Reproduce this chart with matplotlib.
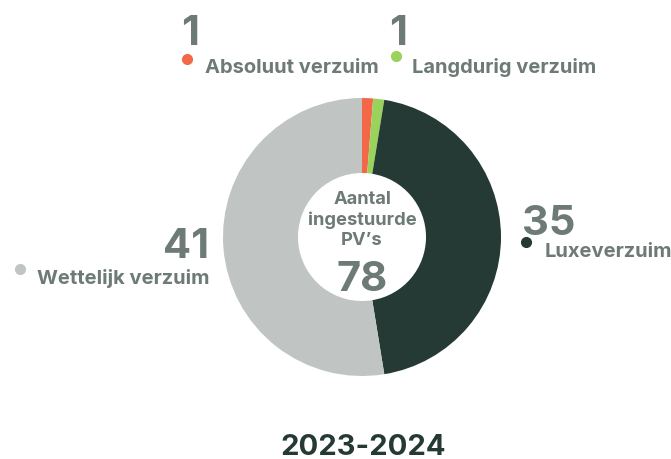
import matplotlib.pyplot as plt

# data
labels = ["Absoluut verzuim", "Langdurig verzuim", "Luxeverzuim", "Wettelijk verzuim"]
values = [1, 1, 35, 41]
colors = ["#F26849", "#9AD35C", "#253A35", "#C0C4C3"]
year = "2023-2024"

txt_grey = "#6E7A76"
dark = "#253A35"
plt.rcParams['font.family'] = ['Inter', 'DejaVu Sans']

W, H = 671, 460
fig = plt.figure(figsize=(W / 100, H / 100), dpi=100)
ax = fig.add_axes([0, 0, 1, 1])

cx, cy = 362, H - 238
ax.pie(values, colors=colors, startangle=90, counterclock=False,
       center=(cx, cy), radius=139, frame=True,
       wedgeprops=dict(width=139 - 64, linewidth=0))
ax.set_xlim(0, W)
ax.set_ylim(0, H)
ax.set_aspect('equal')
ax.axis('off')

# centre text
for txt, y in [("Aantal", 200), ("ingestuurde", 220), ("PV\u2019s", 241)]:
    ax.text(cx, H - y, txt, ha='center', va='center', fontsize=13.2,
            fontweight='bold', color=txt_grey)
ax.text(cx, H - 291, str(sum(values)), ha='center', va='baseline', fontsize=30,
        fontweight='bold', color=txt_grey)

# labels: (number x, number baseline y, dot x, dot y, label x, label baseline y, number ha)
lab_pos = [
    (181, 45, 187, 60, 205, 73, 'left'),
    (389, 45, 396, 57, 412, 73, 'left'),
    (522, 235, 526, 243, 545, 257, 'left'),
    (209, 258, 20, 270, 37, 284, 'right'),
]
for i, (nx, ny, dx, dy, lx, ly, nha) in enumerate(lab_pos):
    ax.text(nx, H - ny, str(values[i]), ha=nha, va='baseline', fontsize=30,
            fontweight='bold', color=txt_grey)
    ax.plot(dx, H - dy, 'o', color=colors[i], markersize=7)
    ax.text(lx, H - ly, labels[i], ha='left', va='baseline', fontsize=14.5,
            fontweight='bold', color=txt_grey)

ax.text(cx + 1, H - 455, year, ha='center', va='baseline', fontsize=21,
        fontweight='bold', color=dark)

fig.savefig("out.png", dpi=100)
